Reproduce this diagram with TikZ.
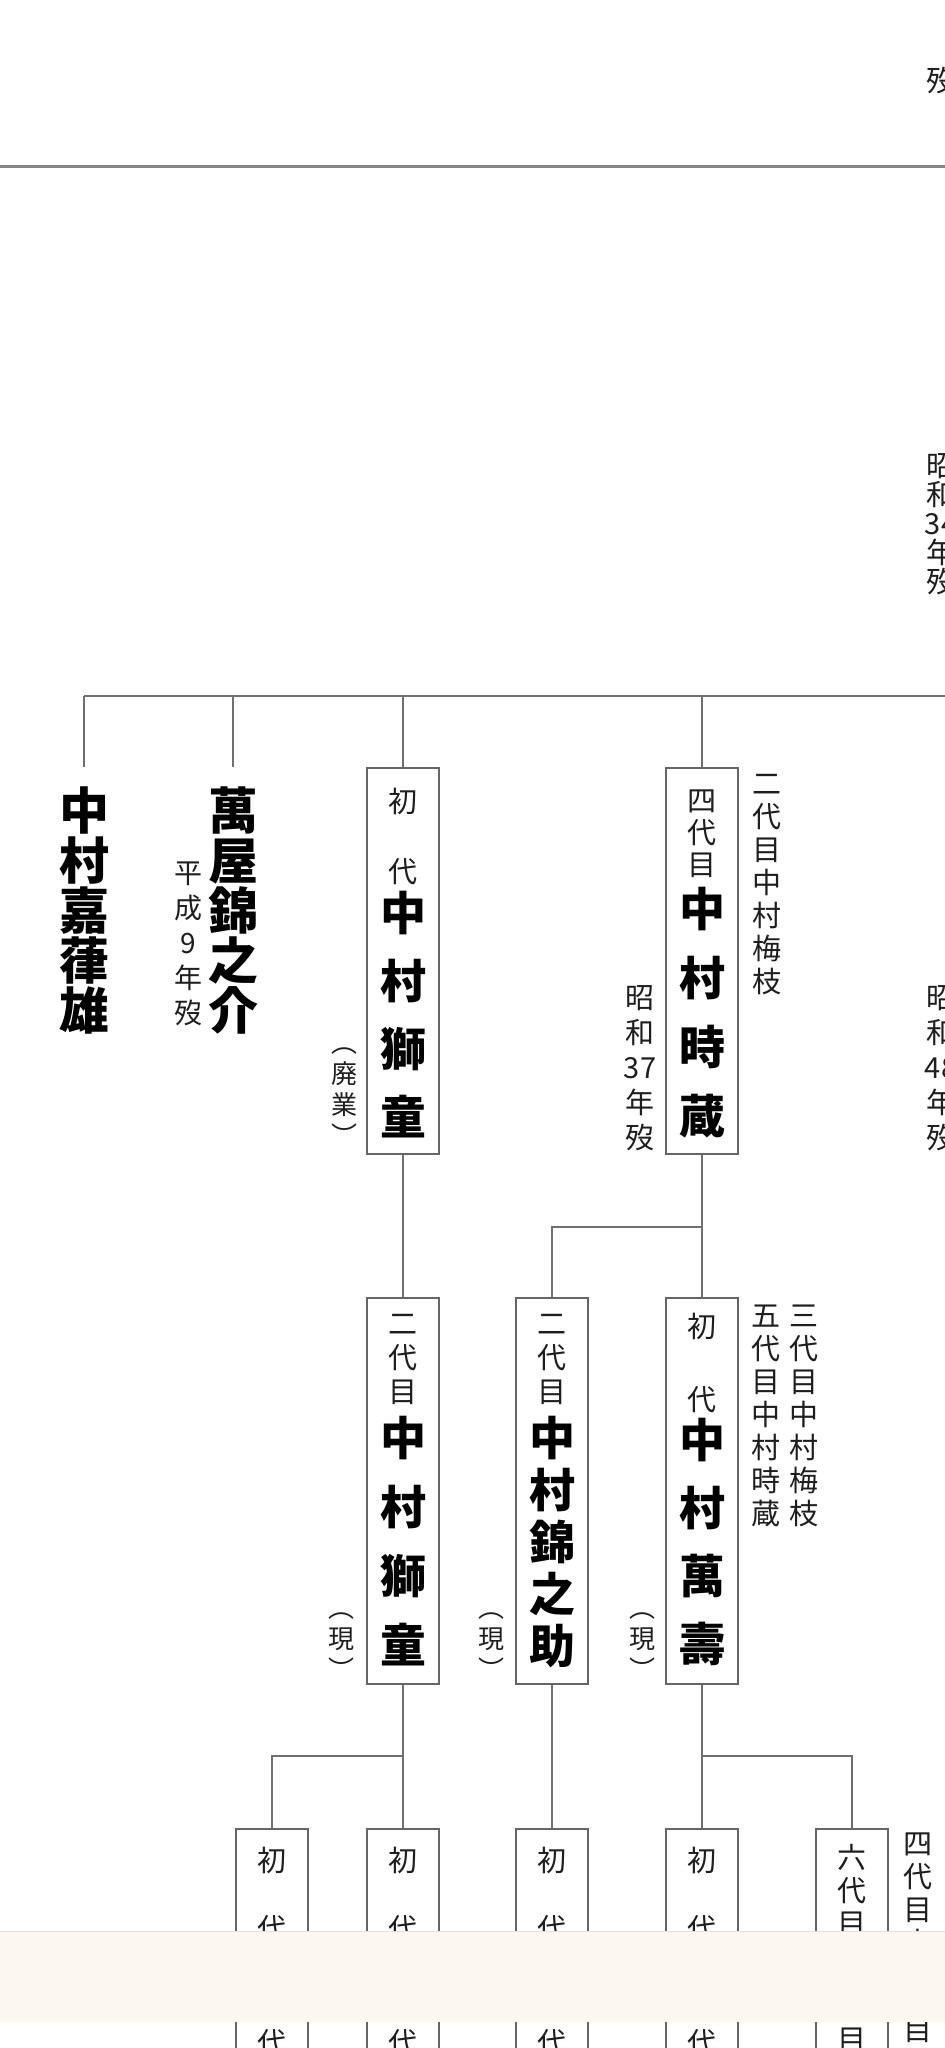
\documentclass[tikz,border=0pt]{standalone}
\usepackage{fontspec}
\newfontfamily\cjk{Noto Sans CJK JP}
\definecolor{linec}{HTML}{707070}
\definecolor{boxc}{HTML}{666666}
\definecolor{txtc}{HTML}{1E1E1E}
\definecolor{bandc}{HTML}{FDF7F1}
\definecolor{bandedge}{HTML}{EADFD6}
\definecolor{rulec}{HTML}{858585}
\tikzset{
  conn/.style={draw=linec, line width=2pt},
  pbox/.style={draw=boxc, line width=2pt, fill=white, minimum width=72pt, minimum height=386pt, inner sep=0pt, anchor=north},
  vt/.style 2 args={font=\cjk\fontsize{#1}{#2}\selectfont, align=center, inner sep=0pt, text=txtc},
  lg/.style 2 args={font=\cjk\bfseries\fontsize{#1}{#2}\selectfont, align=center, inner sep=0pt, text=black},
  pname/.style={font=\cjk\bfseries\fontsize{50}{50}\selectfont, align=center, inner xsep=0pt, inner ysep=20pt, anchor=north, text=black}
}
\begin{document}
\begin{tikzpicture}[x=1pt,y=-1pt]
\useasboundingbox (0,0) rectangle (945,2048);
\clip (0,0) rectangle (945,2048);
\fill[white] (0,0) rectangle (945,2048);

% top part
\node[vt={29}{35}] (t1) at (941,81) {歿};
\draw[draw=rulec, line width=3pt] (0,166) -- (945,166);
\node[vt={29}{29}] (d34) at (941,524) {昭\\和\\34\\年\\歿};

% generation bar
\coordinate (bL) at (84,696);
\coordinate (bR) at (945,696);
\draw[conn, line width=2.5pt] (bL) -- (bR);

% row 1
\node[pname] (n1) at (84,767) {中\\村\\嘉\\葎\\雄};
\node[pname] (n2) at (233,767) {萬\\屋\\錦\\之\\介};
\node[vt={28}{35}] (n2d) at (188,944) {平\\成\\9\\年\\歿};
\draw[conn] (bL) -- (n1.north);
\draw[conn] (n2.north |- bL) -- (n2.north);

\node[pbox] (A) at (403,767) {};
\draw[conn] (A.north |- bL) -- (A.north);
\node[vt={29}{70}] (As) at (403,836) {初\\代};
\node[lg={46}{68}] (Al) at (403,1015) {中\\村\\獅\\童};
\node[vt={26}{31}] (Ap) at (344,1097) {︵\\廃\\業\\︶};

\node[pbox] (B) at (702,767) {};
\draw[conn] (B.north |- bL) -- (B.north);
\node[vt={29}{32}] (Bs) at (702,834) {四\\代\\目};
\node[lg={46}{69}] (Bl) at (702,1013) {中\\村\\時\\蔵};
\node[vt={29}{33}] (Bn) at (767,885) {二\\代\\目\\中\\村\\梅\\枝};
\node[vt={29}{35}] (Bd) at (640,1068) {昭\\和\\37\\年\\歿};
\node[vt={29}{35}] (Rd) at (941,1068) {昭\\和\\48\\年\\歿};

% row 2
\node[pbox] (C) at (403,1297) {};
\node[pbox] (D) at (552,1297) {};
\node[pbox] (E) at (702,1297) {};
\draw[conn] (A.south) -- (C.north);
\coordinate (j1) at (702,1227);
\draw[conn] (B.south) -- (E.north);
\draw[conn] (j1) -| (D.north);

\node[vt={29}{34}] (Cs) at (403,1359) {二\\代\\目};
\node[lg={46}{69}] (Cl) at (403,1541) {中\\村\\獅\\童};
\node[vt={29}{34}] (Ds) at (552,1359) {二\\代\\目};
\node[lg={46}{52}] (Dl) at (552,1542) {中\\村\\錦\\之\\助};
\node[vt={29}{73}] (Es) at (702,1363) {初\\代};
\node[lg={46}{68}] (El) at (702,1542) {中\\村\\萬\\壽};
\node[vt={26}{31}] (Cp) at (341,1646) {︵\\現\\︶};
\node[vt={26}{31}] (Dp) at (491,1646) {︵\\現\\︶};
\node[vt={26}{31}] (Ep) at (642,1646) {︵\\現\\︶};
\node[vt={29}{33}] (Ea1) at (766,1416) {五\\代\\目\\中\\村\\時\\蔵};
\node[vt={29}{33}] (Ea2) at (804,1416) {三\\代\\目\\中\\村\\梅\\枝};

% row 3
\node[pbox, minimum height=400pt] (F) at (272,1828) {};
\node[pbox, minimum height=400pt] (G) at (403,1828) {};
\node[pbox, minimum height=400pt] (H) at (552,1828) {};
\node[pbox, minimum height=400pt] (I) at (702,1828) {};
\node[pbox, minimum height=400pt] (J) at (852,1828) {};
\coordinate (j2) at (403,1756);
\coordinate (j3) at (702,1756);
\draw[conn] (C.south) -- (G.north);
\draw[conn] (j2) -| (F.north);
\draw[conn] (D.south) -- (H.north);
\draw[conn] (E.south) -- (I.north);
\draw[conn] (j3) -| (J.north);

\node[vt={29}{68}] (Fs) at (272,1894) {初\\代};
\node[vt={29}{68}] (Gs) at (403,1894) {初\\代};
\node[vt={29}{68}] (Hs) at (552,1894) {初\\代};
\node[vt={29}{68}] (Is) at (702,1894) {初\\代};
\node[vt={29}{33}] (Js) at (852,1890) {六\\代\\目};
\node[vt={29}{33}] (Ja) at (918,1894) {四\\代\\目\\中};

% fragments below the band
\node[vt={29}{33}] (Ff) at (272,2043) {代};
\node[vt={29}{33}] (Gf) at (403,2043) {代};
\node[vt={29}{33}] (Hf) at (552,2043) {代};
\node[vt={29}{33}] (If) at (702,2043) {代};
\node[vt={29}{33}] (Jf) at (852,2040) {目};
\node[vt={29}{33}] (Jaf) at (918,2030) {目};

% overlay band
\fill[bandc] (0,1931) rectangle (945,2022);
\draw[draw=bandedge, line width=1pt] (0,1931) -- (945,1931);
\end{tikzpicture}
\end{document}
